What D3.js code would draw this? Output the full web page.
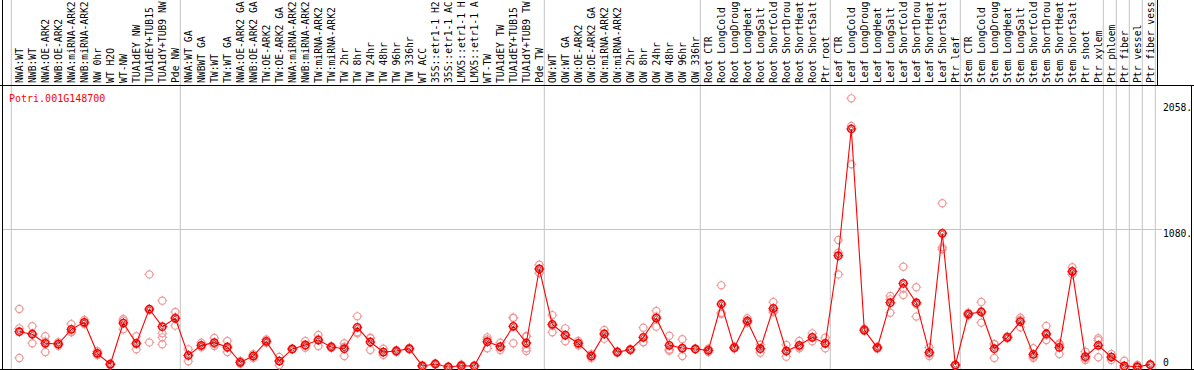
<!DOCTYPE html>
<html>
<head>
<meta charset="utf-8">
<script src="https://cdn.jsdelivr.net/npm/d3@7"></script>
<style>
	body { margin: 0; background: #fff; }
	svg { display: block; }
	.lbl { font-family: "DejaVu Sans Mono", monospace; font-size: 9.7px; fill: #000; }
</style>
</head>
<body>
<svg id="chart" width="1194" height="370"></svg>
<script>
const geneId = 'Potri.001G148700';

// sample names as shown in the header (long ones are cut at the top edge)
const labels = [
	'NWA:WT', 'NWB:WT', 'NWA:OE-ARK2', 'NWB:OE-ARK2', 'NWA:miRNA-ARK2', 'NWB:miRNA-ARK2',
	'NW 0hr', 'WT H2O', 'WT-NW', 'TUA1dEY NW', 'TUA1dEY+TUB15', 'TUA1dY+TUB9 NW', 'Pde NW',
	'NWA:WT GA', 'NWBWT GA', 'TW:WT', 'TW:WT GA', 'NWA:OE-ARK2 GA', 'NWB:OE-ARK2 GA',
	'TW:OE-ARK2', 'TW:OE-ARK2 GA', 'NWA:miRNA-ARK2', 'NWB:miRNA-ARK2', 'TW:miRNA-ARK2',
	'TW:miRNA-ARK2', 'TW 2hr', 'TW 8hr', 'TW 24hr', 'TW 48hr', 'TW 96hr', 'TW 336hr', 'WT ACC',
	'35S::etr1-1 H2', '35S::etr1-1 AC', 'LMX5::etr1-1 H', 'LMX5::etr1-1 A', 'WT-TW',
	'TUA1dEY TW', 'TUA1dEY+TUB15', 'TUA1dY+TUB9 TW', 'Pde TW',
	'OW:WT', 'OW:WT GA', 'OW:OE-ARK2', 'OW:OE-ARK2 GA', 'OW:miRNA-ARK2', 'OW:miRNA-ARK2',
	'OW 2hr', 'OW 8hr', 'OW 24hr', 'OW 48hr', 'OW 96hr', 'OW 336hr',
	'Root CTR', 'Root LongCold', 'Root LongDroug', 'Root LongHeat', 'Root LongSalt',
	'Root ShortCold', 'Root ShortDrou', 'Root ShortHeat', 'Root ShortSalt', 'Ptr root',
	'Leaf CTR', 'Leaf LongCold', 'Leaf LongDroug', 'Leaf LongHeat', 'Leaf LongSalt',
	'Leaf ShortCold', 'Leaf ShortDrou', 'Leaf ShortHeat', 'Leaf ShortSalt', 'Ptr leaf',
	'Stem CTR', 'Stem LongCold', 'Stem LongDroug', 'Stem LongHeat', 'Stem LongSalt',
	'Stem ShortCold', 'Stem ShortDrou', 'Stem ShortHeat', 'Stem ShortSalt', 'Ptr shoot',
	'Ptr xylem', 'Ptr phloem', 'Ptr fiber', 'Ptr vessel', 'Ptr fiber vess'
];

// mean expression per sample
const means = [
	282, 262, 192, 186, 300, 355, 114, 29, 349, 192, 458, 321, 386,
	98, 176, 197, 163, 44, 93, 207, 54, 148, 179, 217, 163, 150, 316, 202, 124, 132, 150,
	16, 31, 8, 18, 16, 204, 166, 324, 194, 769,
	339, 256, 192, 93, 264, 124, 142, 238, 388, 176, 155, 148,
	137, 497, 158, 365, 150, 463, 132, 176, 238, 192,
	872, 1856, 295, 158, 507, 657, 507, 121, 1046, 23,
	419, 435, 150, 238, 360, 106, 266, 160, 751, 88, 176,
	85, 16, 10, 26
];

// replicate values per sample
const reps = [
	[458, 308, 78], [324, 268, 192], [246, 206, 124], [200, 186, 172], [341, 282, 278],
	[373, 350, 342], [130, 100, 112], [29, 25, 33], [367, 380, 300], [246, 185, 145],
	[727, 448, 199], [523, 269, 238, 184], [435, 395, 329],
	[145, 98, 52], [196, 160, 172], [233, 187, 171], [210, 155, 124], [55, 44, 33],
	[108, 93, 78], [222, 207, 195], [85, 54, 23], [150, 148, 146], [210, 170, 157],
	[256, 224, 171], [170, 163, 156], [192, 165, 93], [401, 278, 269], [235, 231, 140],
	[150, 124, 100], [140, 132, 124], [155, 150, 145], [20, 16, 12], [36, 31, 26],
	[10, 8, 6], [28, 18, 8], [18, 16, 14], [238, 221, 153], [197, 161, 140],
	[391, 389, 192], [248, 243, 153, 132], [802, 769, 737],
	[411, 330, 277], [308, 253, 207], [210, 192, 175], [108, 93, 78], [295, 269, 228],
	[130, 124, 118], [145, 142, 139], [313, 202, 199], [443, 400, 321], [251, 143, 134],
	[223, 150, 93], [150, 148, 146],
	[150, 137, 124], [642, 429, 420], [165, 158, 151], [386, 360, 349], [180, 150, 119],
	[512, 445, 432], [179, 129, 88], [210, 165, 153], [269, 238, 207], [235, 188, 153],
	[994, 895, 727], [2094, 1879, 1582], [305, 290, 290], [165, 158, 150], [559, 533, 429],
	[787, 617, 567], [627, 495, 399], [160, 110, 93], [1279, 937, 922], [25, 23, 21],
	[430, 419, 408], [512, 441, 352], [186, 186, 78], [245, 238, 231], [391, 373, 316],
	[153, 88, 77], [326, 256, 217], [190, 180, 109], [782, 745, 727], [127, 75, 62],
	[231, 215, 83],
	[108, 85, 62], [57, 0, 0], [23, 5, 2], [30, 26, 22]
];

// index of the last sample in each group (gray separator drawn after it)
const groupEnds = [12, 40, 52, 62, 72, 83, 84, 85, 86, 87];
const axisTicks = [0, 1080, 2058];

const W = 1194, H = 370;
const headerBottom = 85, plotBottom = 369;
const colW = 13;

const svg = d3.select('#chart');

const x = d3.scaleBand()
	.domain(d3.range(labels.length))
	.range([11.3, 11.3 + colW * labels.length])
	.padding(0);
const px = i => x(i) + 8;
const y = d3.scaleLinear().domain([0, 2058]).range([368, 103]);
const sepX = i => i + 1 < labels.length ? x(i + 1) : x.range()[1];

// gray column separators
svg.append('g')
	.selectAll('line')
	.data([-1].concat(groupEnds))
	.enter()
	.append('line')
		.attr('x1', d => sepX(d))
		.attr('x2', d => sepX(d))
		.attr('y1', 0)
		.attr('y2', plotBottom)
		.attr('stroke', '#c4c4c4')
		.attr('stroke-width', 1);

// gridline
svg.append('line')
	.attr('x1', 2).attr('x2', 1162)
	.attr('y1', Math.round(y(1080)) + 0.5).attr('y2', Math.round(y(1080)) + 0.5)
	.attr('stroke', '#c4c4c4');

// frame
svg.append('line').attr('x1', 0).attr('x2', W).attr('y1', headerBottom + 0.5).attr('y2', headerBottom + 0.5).attr('stroke', '#000');
svg.append('line').attr('x1', 0).attr('x2', W).attr('y1', plotBottom + 0.5).attr('y2', plotBottom + 0.5).attr('stroke', '#000');
svg.append('line').attr('x1', 2.5).attr('x2', 2.5).attr('y1', 0).attr('y2', plotBottom).attr('stroke', '#000');
svg.append('line').attr('x1', 1191.5).attr('x2', 1191.5).attr('y1', headerBottom).attr('y2', plotBottom).attr('stroke', '#000');
svg.append('line').attr('x1', 1157.5).attr('x2', 1157.5).attr('y1', 0).attr('y2', headerBottom).attr('stroke', '#000');

// rotated sample labels
svg.append('g')
	.selectAll('text')
	.data(labels)
	.enter()
	.append('text')
		.classed('lbl', true)
		.attr('transform', (d, i) => `translate(${x(i) + 11.7},83) rotate(-90)`)
		.text(d => d);

// right axis labels
svg.append('g')
	.selectAll('text')
	.data(axisTicks)
	.enter()
	.append('text')
		.classed('lbl', true)
		.attr('x', 1163)
		.attr('y', d => Math.min(y(d) + 7.6, 365.5))
		.text(d => d === 0 ? '0' : d + '.');

// title
svg.append('text')
	.attr('x', 9)
	.attr('y', 101.5)
	.style('font-family', '"DejaVu Sans Mono", monospace')
	.style('font-size', '10px')
	.attr('fill', '#f00')
	.text(geneId);

function marker (g, cx, cy, color, sw) {
	const m = g.append('g').attr('transform', `translate(${cx},${cy})`);
	m.append('circle').attr('r', 3.6).attr('fill', 'none').attr('stroke', color).attr('stroke-width', sw);
	[[0, -1], [0, 1], [-1, 0], [1, 0]].forEach(([dx, dy]) => {
		m.append('line')
			.attr('x1', dx * 3.6).attr('y1', dy * 3.6)
			.attr('x2', dx * 5).attr('y2', dy * 5)
			.attr('stroke', color).attr('stroke-width', 1);
	});
	return m;
}

// replicates
const repG = svg.append('g');
reps.forEach((arr, i) => {
	arr.forEach(v => marker(repG, px(i), y(v), '#ee9a9a', 1.2));
});

// mean line
svg.append('path')
	.datum(means)
	.attr('fill', 'none')
	.attr('stroke', '#f00')
	.attr('stroke-width', 1.1)
	.attr('d', d3.line().x((d, i) => px(i)).y(d => y(d)));

// mean markers
const meanG = svg.append('g');
means.forEach((v, i) => {
	const m = marker(meanG, px(i), y(v), '#f00', 1.6);
	m.append('circle').attr('r', 2).attr('fill', 'none').attr('stroke', '#600').attr('stroke-width', 0.6);
});
</script>
</body>
</html>
